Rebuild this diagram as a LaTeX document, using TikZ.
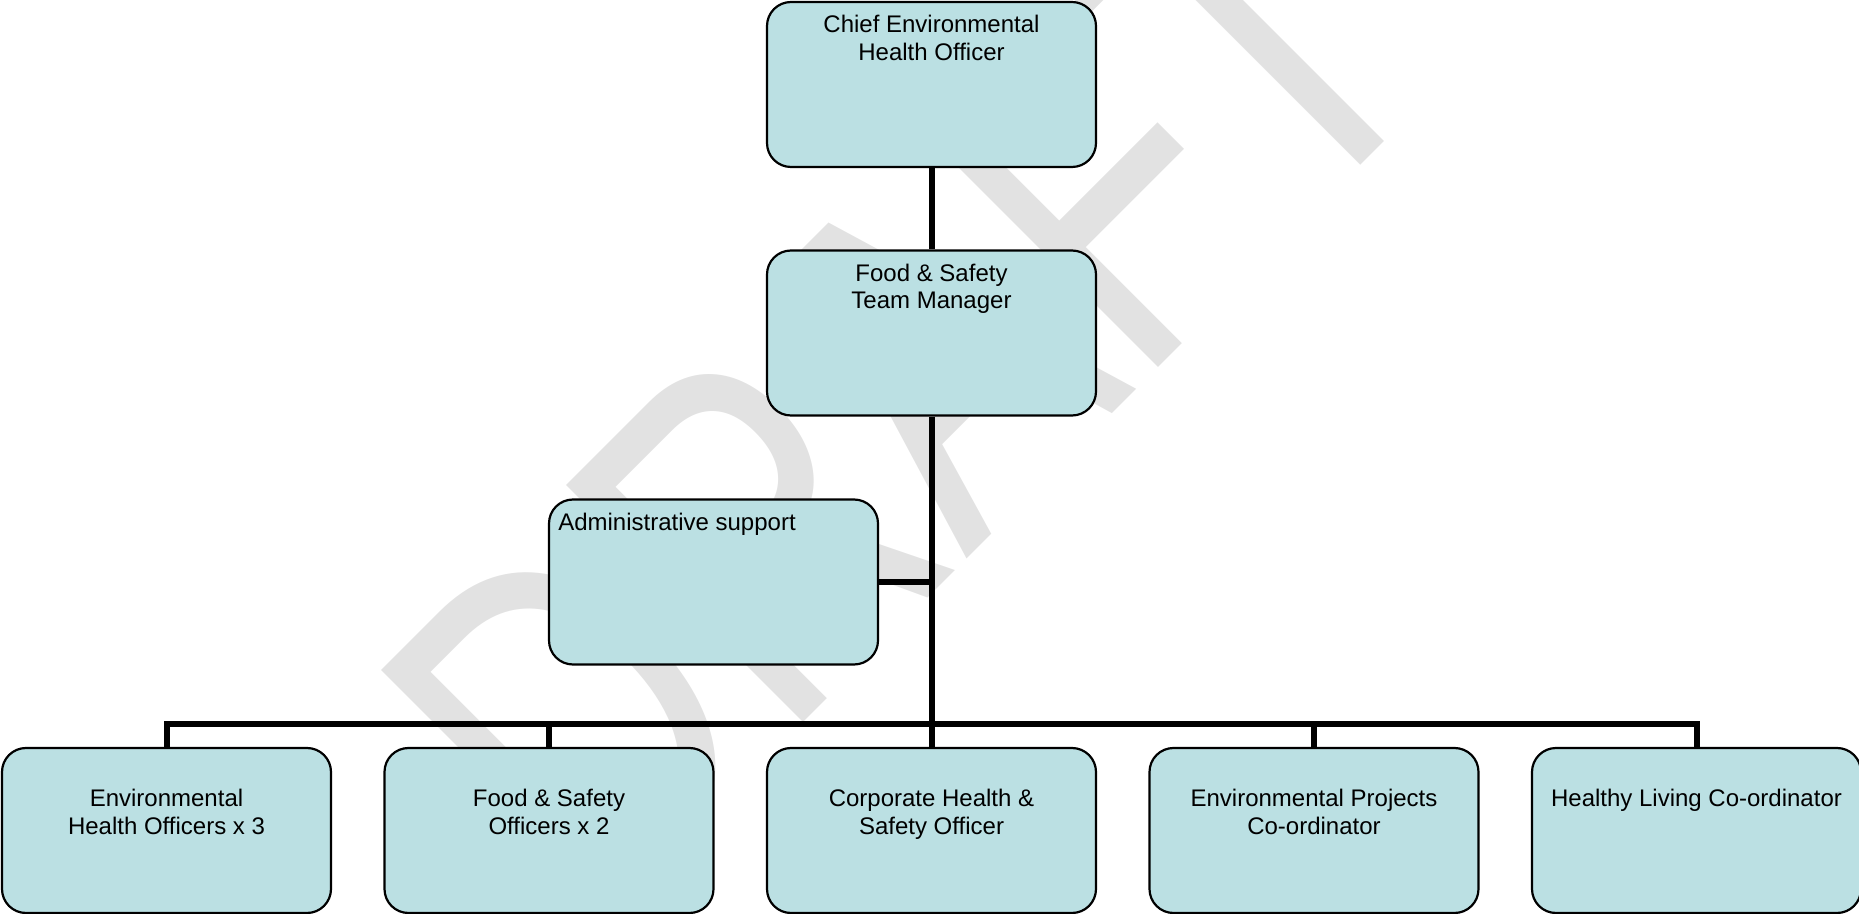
\documentclass[tikz,border=0pt]{standalone}
\usepackage{fontspec}
\setmainfont{Liberation Sans}
\usepackage{graphicx}
\definecolor{boxfill}{RGB}{187,224,227}
\definecolor{wmark}{RGB}{226,226,226}
\begin{document}
\begin{tikzpicture}[x=0.5pt,y=-0.5pt,
  orgbox/.style={draw=black, line width=1.1pt, fill=boxfill, rounded corners=12pt,
    minimum width=164.5pt, minimum height=82.5pt, inner sep=0pt},
  boxtext/.style={anchor=north, inner sep=0pt, align=center,
    font=\fontsize{12}{13.75}\selectfont},
  link/.style={line width=3pt, line join=miter},
  watermark/.style={rotate=45, anchor=base west, inner sep=0pt, text=wmark}]
\useasboundingbox (0,0) rectangle (1859,914);
% watermark
\node[watermark] (wm) at (597,929) {\scalebox{1}[1.346]{\fontsize{181}{181}\selectfont DRAFT}};
% boxes
\node[orgbox] (b1) at (931.5,84.5) {};
\node[orgbox] (b2) at (931.5,333) {};
\node[orgbox] (adm) at (713.5,582) {};
\node[orgbox] (c1) at (166.5,830.5) {};
\node[orgbox] (c2) at (549,830.5) {};
\node[orgbox] (c3) at (931.5,830.5) {};
\node[orgbox] (c4) at (1314,830.5) {};
\node[orgbox] (c5) at (1696.5,830.5) {};
% texts
\node[boxtext] (t1) at ([yshift=-7pt]b1.north) {Chief Environmental\\Health Officer};
\node[boxtext] (t2) at ([yshift=-7pt]b2.north) {Food \& Safety\\Team Manager};
\node[boxtext, anchor=north west, align=left] (tadm) at ([xshift=5pt,yshift=-7pt]adm.north west) {Administrative support};
\node[boxtext] (tc1) at ([yshift=-21pt]c1.north) {Environmental\\Health Officers x 3};
\node[boxtext] (tc2) at ([yshift=-21pt]c2.north) {Food \& Safety\\Officers x 2};
\node[boxtext] (tc3) at ([yshift=-21pt]c3.north) {Corporate Health \&\\Safety Officer};
\node[boxtext] (tc4) at ([yshift=-21pt]c4.north) {Environmental Projects\\Co-ordinator};
\node[boxtext] (tc5) at ([yshift=-21pt]c5.north) {Healthy Living Co-ordinator};
% connectors
\coordinate (bus) at (931.5,724);
\draw[link] (b1.south) -- (b2.north);
\draw[link] (b2.south) -- (bus);
\draw[link] (adm.east) -- (adm.east -| bus);
\draw[link] (c1.north) -- (c1.north |- bus) -- (c5.north |- bus) -- (c5.north);
\foreach \n in {c2,c3,c4} \draw[link] (\n.north) -- (\n.north |- bus);
\end{tikzpicture}
\end{document}
